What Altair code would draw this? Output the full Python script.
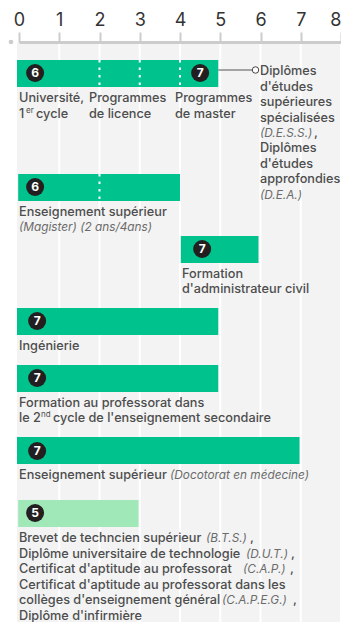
import altair as alt
import pandas as pd

FONT = "Inter"
TXT = "#4d4d4d"
ITA = "#6b6b6b"

# bars (axis units)
bar_start = [-0.05, -0.02, 4.02, -0.05, -0.05, -0.05, -0.02]
bar_end = [4.95, 4.0, 5.95, 4.95, 4.95, 6.97, 2.97]
bar_top = [60, 174, 236, 308, 365, 437, 500]
bar_colors = ["#00c28c"] * 6 + ["#a0e8b8"]
BAR_H = 27

# level badges
badge_level = ["6", "7", "6", "7", "7", "7", "7", "5"]
badge_x = [0.4, 4.5, 0.4, 4.55, 0.45, 0.45, 0.45, 0.4]
badge_y = [73, 73, 187, 249, 321, 378, 451, 513]

# year dividers inside bars
div_x = [2, 3, 4, 2]
div_top = [60, 60, 60, 174]

ticks = list(range(9))

def u(px):
    return (px - 19) / 40.25

roman = [
    (19, 97, "Université,"), (19, 113, "1"), (36, 113, "cycle"),
    (89, 97, "Programmes"), (89, 113, "de licence"),
    (175, 97, "Programmes"), (175, 113, "de master"),
    (260, 70, "Diplômes"), (260, 86, "d'études"), (260, 101, "supérieures"),
    (260, 117, "spécialisées"), (314, 132, ","), (260, 147, "Diplômes"),
    (260, 163, "d'études"), (260, 178, "approfondies"),
    (19, 211, "Enseignement supérieur"),
    (182, 273, "Formation"), (182, 288, "d'administrateur civil"),
    (19, 345, "Ingénierie"),
    (19, 402, "Formation au professorat dans"),
    (19, 417, "le 2"), (53, 417, "cycle de l'enseignement secondaire"),
    (19, 474, "Enseignement supérieur"),
    (19, 537, "Brevet de techncien supérieur"), (250, 537, ","),
    (19, 553, "Diplôme universitaire de technologie"), (291, 553, ","),
    (19, 568, "Certificat d'aptitude au professorat"), (290, 568, ","),
    (19, 584, "Certificat d'aptitude au professorat dans les"),
    (19, 599, "collèges d'enseignement général"), (293, 599, ","),
    (19, 615, "Diplôme d'infirmière"),
]
italic = [
    (260, 132, "(D.E.S.S.)"), (260, 194, "(D.E.A.)"),
    (19, 226, "(Magister) (2 ans/4ans)"),
    (170, 474, "(Docotorat en médecine)"),
    (206, 537, "(B.T.S.)"), (246, 553, "(D.U.T.)"),
    (243, 568, "(C.A.P.)"), (222, 599, "(C.A.P.E.G.)"),
]
sup = [(26, 110, "er"), (41, 414, "nd")]

x_s = alt.Scale(domain=[0, 8], nice=False, zero=False)
y_s = alt.Scale(domain=[42, 622], reverse=True, nice=False, zero=False)
x_axis = alt.Axis(
    orient="top", values=ticks, format="d", grid=False, domainColor="#cccccc", domainWidth=3,
    tickColor="#cccccc", tickWidth=2, tickSize=10, labelFontSize=18, labelFont=FONT,
    labelColor="#333333", labelPadding=3, labelFlush=False, labelOverlap=False, title=None,
    zindex=1, labelAlign=alt.ExprRef("datum.value == 8 ? 'right' : 'center'"))
X = lambda f="x": alt.X(f"{f}:Q", scale=x_s, axis=x_axis)
Y = lambda f="y": alt.Y(f"{f}:Q", scale=y_s, axis=None)

def tdf(rows):
    return pd.DataFrame({"x": [u(r[0]) for r in rows], "y": [r[1] for r in rows], "t": [r[2] for r in rows]})

bg = alt.Chart(pd.DataFrame({"x": [-0.05], "x2": [8.03], "y": [42], "y2": [622]})).mark_rect(color="#f3f3f3").encode(
    x=X(), x2="x2:Q", y=Y(), y2="y2:Q")

grid = alt.Chart(pd.DataFrame({"x": ticks[1:], "y": [42] * 8, "y2": [622] * 8})).mark_rule(color="#ffffff", strokeWidth=2).encode(
    x=X(), y=Y(), y2="y2:Q")

bars_df = pd.DataFrame({"x": bar_start, "x2": bar_end, "y": bar_top,
                        "y2": [t + BAR_H for t in bar_top], "c": bar_colors})
bars = alt.Chart(bars_df).mark_rect().encode(
    x=X(), x2="x2:Q", y=Y(), y2="y2:Q", color=alt.Color("c:N", scale=None))

div = alt.Chart(pd.DataFrame({"x": div_x, "y": div_top, "y2": [t + BAR_H for t in div_top]})).mark_rule(
    color="#ffffff", strokeWidth=2, strokeDash=[2.5, 5]).encode(x=X(), y=Y(), y2="y2:Q")

badge_df = pd.DataFrame({"x": badge_x, "y": badge_y, "t": badge_level})
badges = alt.Chart(badge_df).mark_point(filled=True, shape="circle", size=324, color="#231f20", opacity=1).encode(x=X(), y=Y())
badge_t = alt.Chart(badge_df).mark_text(font=FONT, fontSize=12, fontWeight="bold", color="#ffffff", baseline="middle", align="center").encode(
    x=X(), y=Y(), text="t:N")

conn = alt.Chart(pd.DataFrame({"x": [4.95], "x2": [u(252)], "y": [70]})).mark_rule(color="#555555", strokeWidth=1).encode(
    x=X(), x2="x2:Q", y=Y())
conn_pt = alt.Chart(pd.DataFrame({"x": [u(255.5)], "y": [70]})).mark_point(
    shape="circle", size=42, filled=True, fill="#ffffff", stroke="#444444", strokeWidth=1, opacity=1).encode(x=X(), y=Y())

origin = alt.Chart(pd.DataFrame({"x": [u(11)], "y": [42]})).mark_point(
    shape="circle", size=22, filled=True, color="#cccccc", opacity=1).encode(x=X(), y=Y())

def text_layer(rows, **kw):
    return alt.Chart(tdf(rows)).mark_text(font=FONT, align="left", baseline="middle", dy=1, **kw).encode(x=X(), y=Y(), text="t:N")

chart = alt.layer(
    bg, grid, bars, div, badges, badge_t, conn, conn_pt, origin,
    text_layer(roman, fontSize=12.7, color=TXT, fontWeight=500),
    text_layer(italic, fontSize=11.8, color=ITA, fontStyle="italic"),
    text_layer(sup, fontSize=8, color=TXT),
).properties(
    width=322, height=580,
    autosize=alt.AutoSizeParams(type="none"),
    padding={"left": 11, "top": 34, "right": 0, "bottom": 0},
    background="#ffffff",
).configure_view(stroke=None)

chart.save("out.html", embed_options={"renderer": "svg", "actions": False})
